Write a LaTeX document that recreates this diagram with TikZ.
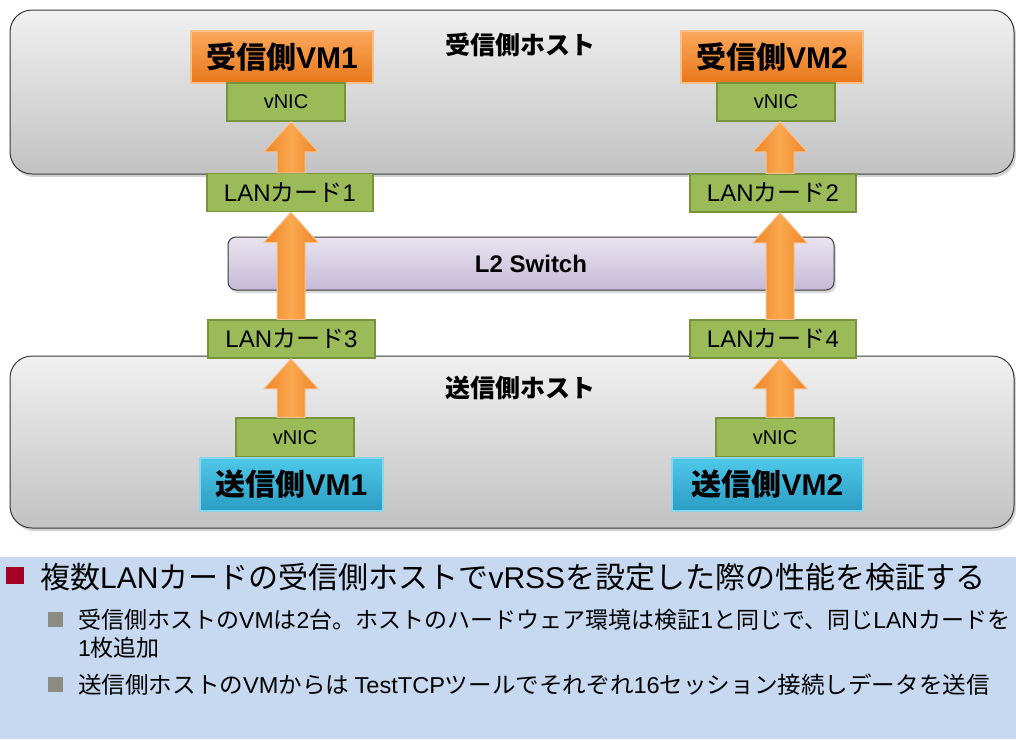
\documentclass[tikz,border=0pt]{standalone}
\usepackage{fontspec}
\setmainfont{Noto Sans CJK JP}
\newfontfamily\latfont{Liberation Sans}
\newcommand{\lat}[1]{{\latfont #1}}
\usepackage{tikz}
\usetikzlibrary{arrows}
\usetikzlibrary{calc,shadows}

\definecolor{hosttop}{HTML}{F0F0F0}
\definecolor{hostbot}{HTML}{C2C2C2}
\definecolor{hostline}{HTML}{3A3A3A}
\definecolor{vmtop}{HTML}{FBA85C}
\definecolor{vmbot}{HTML}{E8781A}
\definecolor{vmline}{HTML}{F6BE8A}
\definecolor{sndtop}{HTML}{4FC8EA}
\definecolor{sndbot}{HTML}{2A9DC2}
\definecolor{sndline}{HTML}{8BD6EF}
\definecolor{nicfill}{HTML}{9BBB59}
\definecolor{nicline}{HTML}{77933C}
\definecolor{swtop}{HTML}{E9E4EF}
\definecolor{swbot}{HTML}{C6BAD7}
\definecolor{arrside}{HTML}{EE8424}
\definecolor{arrmid}{HTML}{FAA850}
\definecolor{arrline}{HTML}{F8C290}
\definecolor{panel}{HTML}{C6D9F1}
\definecolor{bulletred}{HTML}{A50021}
\definecolor{bulletgray}{HTML}{8C8C84}

% block arrow along a column, from one box up to the next
\newcommand{\fatarrow}[3]{%
  \path[arrowfill] let \p0=(#1), \p1=(#2.north), \p2=(#3.south) in
    ({\x0-14pt},\y1) -- ({\x0-14pt},{\y2-30pt}) -- ({\x0-27pt},{\y2-30pt}) -- (\x0,\y2)
    -- ({\x0+27pt},{\y2-30pt}) -- ({\x0+14pt},{\y2-30pt}) -- ({\x0+14pt},\y1) -- cycle;}

\begin{document}
\begin{tikzpicture}[x=1pt,y=-1pt,
  host/.style={rounded corners=22pt,draw=hostline,line width=1pt,top color=hosttop,bottom color=hostbot,
    drop shadow={opacity=0.35,shadow xshift=2pt,shadow yshift=-3pt},minimum width=1004pt,inner sep=0pt},
  vm/.style={draw=vmline,line width=1.5pt,top color=vmtop,bottom color=vmbot,minimum width=182pt,minimum height=52pt,
    inner sep=0pt,font=\fontsize{30}{30}\selectfont\bfseries},
  snd/.style={vm,draw=sndline,top color=sndtop,bottom color=sndbot},
  nic/.style={draw=nicline,fill=nicfill,line width=1.5pt,minimum width=118pt,minimum height=38pt,inner sep=0pt,
    font=\fontsize{20}{20}\selectfont},
  card/.style={nic,minimum width=166pt,font=\fontsize{24}{24}\selectfont},
  arrowfill/.style={left color=arrside,right color=arrside,middle color=arrmid,draw=arrline,line width=1pt}]
  \tikzstyle{label}=[inner sep=0pt,font=\fontsize{25}{25}\selectfont\bfseries]

  \useasboundingbox (0,0) rectangle (1016,739);
  \fill[white] (0,0) rectangle (1016,739);

  % hosts
  \node[host,minimum height=164pt] (RH) at (512,92) {};
  \node[host,minimum height=172pt] (SH) at (512,442) {};
  \node[label] (RHT) at (520,45) {受信側ホスト};
  \node[label] (SHT) at (520,388) {送信側ホスト};

  % switch
  \node[rounded corners=8pt,draw=hostline,line width=1pt,top color=swtop,bottom color=swbot,
    drop shadow={opacity=0.3,shadow xshift=2pt,shadow yshift=-3pt},
    minimum width=606pt,minimum height=53pt,font=\fontsize{24}{24}\selectfont\bfseries] (SW) at (531,263.5) {\lat{L2 Switch}};

  % receiving side
  \node[vm] (RV1) at (282,57) {受信側\lat{VM1}};
  \node[nic] (RN1) at (286,102) {\lat{vNIC}};
  \node[card] (C1) at (290,192.5) {\lat{LAN}カード\lat{1}};
  \node[vm] (RV2) at (772,57) {受信側\lat{VM2}};
  \node[nic] (RN2) at (776,102) {\lat{vNIC}};
  \node[card] (C2) at (773,193) {\lat{LAN}カード\lat{2}};

  % sending side
  \node[card,minimum width=167pt] (C3) at (291.5,339) {\lat{LAN}カード\lat{3}};
  \node[card] (C4) at (773,339) {\lat{LAN}カード\lat{4}};
  \node[nic,minimum height=39pt] (SN1) at (295,437.5) {\lat{vNIC}};
  \node[snd,minimum width=183pt,minimum height=53pt] (SV1) at (291.5,484.5) {送信側\lat{VM1}};
  \node[nic,minimum height=39pt] (SN2) at (775,437.5) {\lat{vNIC}};
  \node[snd,minimum width=191pt,minimum height=53pt] (SV2) at (767.5,484.5) {送信側\lat{VM2}};

  % arrows
  \coordinate (colL) at (291,0);
  \coordinate (colR) at (780,0);
  \fatarrow{colL}{SN1}{C3}
  \fatarrow{colL}{C3}{C1}
  \fatarrow{colL}{C1}{RN1}
  \fatarrow{colR}{SN2}{C4}
  \fatarrow{colR}{C4}{C2}
  \fatarrow{colR}{C2}{RN2}

  % notes
  \fill[panel] (0,557) rectangle (1016,739);
  \fill[bulletred] (6,567) rectangle (24,584);
  \fill[bulletgray] (48,612) rectangle (63,627);
  \fill[bulletgray] (48,677) rectangle (63,692);
  \node[anchor=west,inner sep=0pt,font=\fontsize{30}{30}\selectfont] (T0) at (40,577)
    {複数\lat{LAN}カードの受信側ホストで\lat{vRSS}を設定した際の性能を検証する};
  \node[anchor=west,inner sep=0pt,font=\fontsize{23}{23}\selectfont] (T1) at (78,620)
    {受信側ホストの\lat{VM}は\lat{2}台。ホストのハードウェア環境は検証\lat{1}と同じで、同じ\lat{LAN}カードを};
  \node[anchor=west,inner sep=0pt,font=\fontsize{23}{23}\selectfont] (T2) at (78,648) {\lat{1}枚追加};
  \node[anchor=west,inner sep=0pt,font=\fontsize{23}{23}\selectfont] (T3) at (78,685)
    {\scalebox{1.025}[1]{送信側ホストの\lat{VM}からは \lat{TestTCP}ツールでそれぞれ\lat{16}セッション接続しデータを送信}};
\end{tikzpicture}
\end{document}
